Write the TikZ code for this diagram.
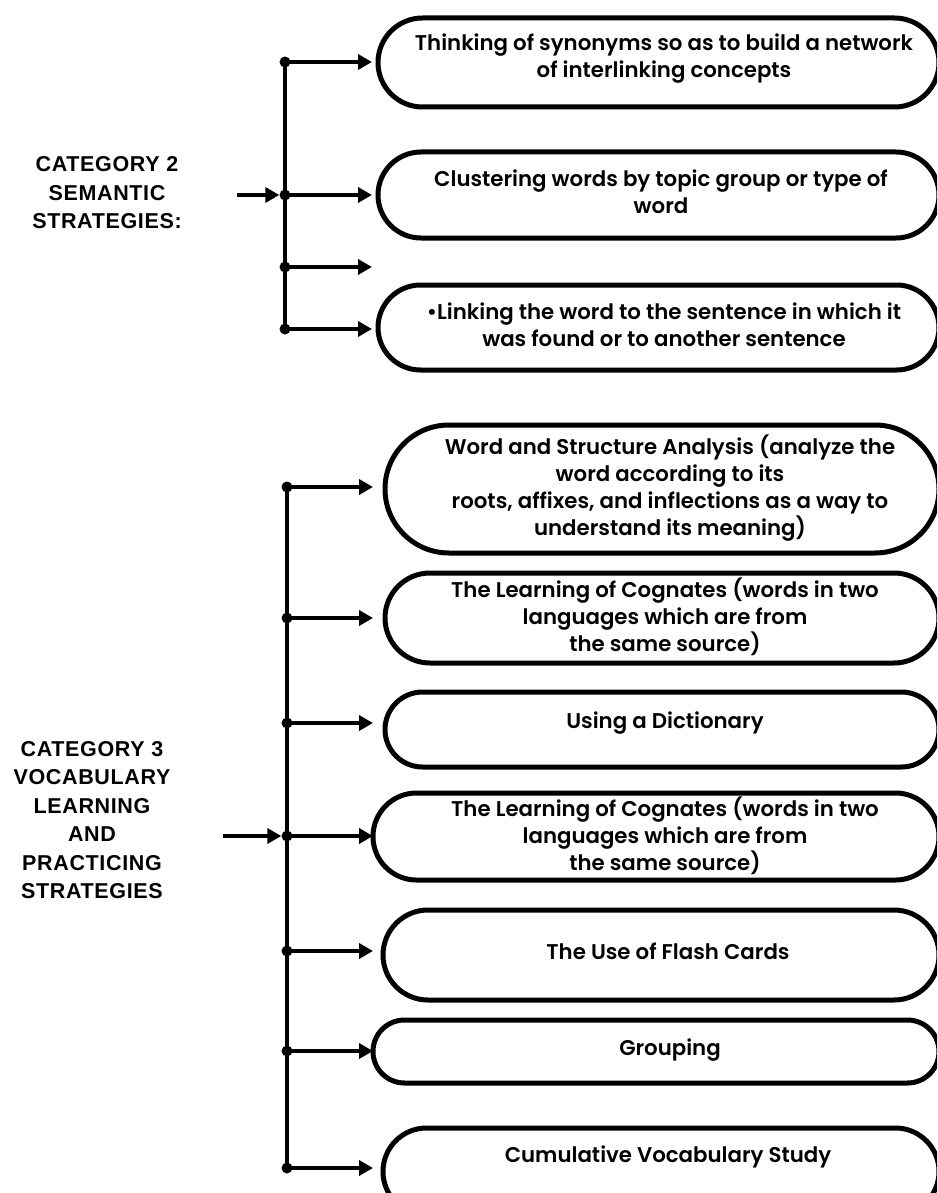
\documentclass[tikz,border=0pt]{standalone}
\usepackage{fontspec}
\setmainfont{Poppins}
\newfontfamily\boxfont{Poppins SemiBold}
\newfontfamily\labelfont[LetterSpace=3]{Liberation Sans}
\usetikzlibrary{arrows.meta,shapes.misc}

\tikzset{
  pill/.style={rounded rectangle, draw=black, line width=5pt, fill=white, inner sep=0pt},
  txt/.style={font=\boxfont\fontsize{21.3}{27}\selectfont, align=center, inner sep=0pt},
  lbl/.style={font=\labelfont\fontsize{21.5}{28.5}\selectfont\bfseries, align=center, inner sep=0pt},
  dot/.style={circle, fill=black, inner sep=0pt, minimum size=11pt},
  bus/.style={line width=4pt},
  arr/.style={line width=4pt, -{Triangle[length=14pt,width=15pt]}},
}

\begin{document}
\begin{tikzpicture}[x=1pt,y=-1pt]
\useasboundingbox (0,0) rectangle (937,1193);
\clip (0,0) rectangle (937,1193);

% ---------- Category 2: semantic strategies ----------
\node[lbl] (c2) at (107,193) {CATEGORY 2\\SEMANTIC\\STRATEGIES:};

\node[pill, minimum width=561pt, minimum height=89pt] (a1) at (658.5,62.5) {};
\node[pill, minimum width=561pt, minimum height=86pt] (a2) at (658.5,195) {};
\node[pill, minimum width=561pt, minimum height=85pt] (a3) at (658.5,327.5) {};

\node[txt] (ta1) at (664,59) {Thinking of synonyms so as to build a network\\of interlinking concepts};
\node[txt] (ta2) at (661,192) {Clustering words by topic group or type of\\word};
\node[txt] (ta3) at (664,325) {\textbullet Linking the word to the sentence in which it\\was found or to another sentence};

\node[dot] (p1) at (285,62) {};
\node[dot] (p2) at (285,195) {};
\node[dot] (p3) at (285,267) {};
\node[dot] (p4) at (285,329) {};
\draw[bus] (p1.center) -- (p4.center);

\coordinate (q1) at (372,62);
\coordinate (q2) at (372,195);
\coordinate (q3) at (372,267);
\coordinate (q4) at (372,329);
\draw[arr] (p1.center) -- (q1);
\draw[arr] (p2.center) -- (q2);
\draw[arr] (p3.center) -- (q3);
\draw[arr] (p4.center) -- (q4);

\coordinate (in2) at (237,195);
\draw[arr] (in2) -- (p2);

% ---------- Category 3: vocabulary learning and practicing strategies ----------
\node[lbl] (c3) at (92,820) {CATEGORY 3\\VOCABULARY\\LEARNING\\AND\\PRACTICING\\STRATEGIES};

\node[pill, minimum width=554pt, minimum height=128pt] (b1) at (662,489) {};
\node[pill, minimum width=554pt, minimum height=90pt]  (b2) at (662,618) {};
\node[pill, minimum width=554pt, minimum height=75pt]  (b3) at (662,729.5) {};
\node[pill, minimum width=566pt, minimum height=87pt]  (b4) at (656,836.5) {};
\node[pill, minimum width=556pt, minimum height=90pt]  (b5) at (661,955) {};
\node[pill, minimum width=566pt, minimum height=63pt]  (b6) at (656,1051.5) {};
\node[pill, minimum width=556pt, minimum height=87pt]  (b7) at (661,1171.5) {};

\node[txt] (tb1) at (670,488) {Word and Structure Analysis (analyze the\\word according to its\\roots, affixes, and inflections as a way to\\understand its meaning)};
\node[txt] (tb2) at (665,617) {The Learning of Cognates (words in two\\languages which are from\\the same source)};
\node[txt] (tb3) at (665,723) {Using a Dictionary};
\node[txt] (tb4) at (665,836) {The Learning of Cognates (words in two\\languages which are from\\the same source)};
\node[txt] (tb5) at (668,951) {The Use of Flash Cards};
\node[txt] (tb6) at (670,1050) {Grouping};
\node[txt] (tb7) at (668,1157) {Cumulative Vocabulary Study};

\node[dot] (r1) at (287,487) {};
\node[dot] (r2) at (287,618) {};
\node[dot] (r3) at (287,723) {};
\node[dot] (r4) at (287,836) {};
\node[dot] (r5) at (287,951) {};
\node[dot] (r6) at (287,1051) {};
\node[dot] (r7) at (287,1168) {};
\draw[bus] (r1.center) -- (r7.center);

\foreach \i/\y in {1/487,2/618,3/723,4/836,5/951,6/1051,7/1168}{
  \coordinate (s\i) at (373,\y);
  \draw[arr] (r\i.center) -- (s\i);
}

\coordinate (in3) at (223,836);
\draw[arr] (in3) -- (r4);
\end{tikzpicture}
\end{document}
